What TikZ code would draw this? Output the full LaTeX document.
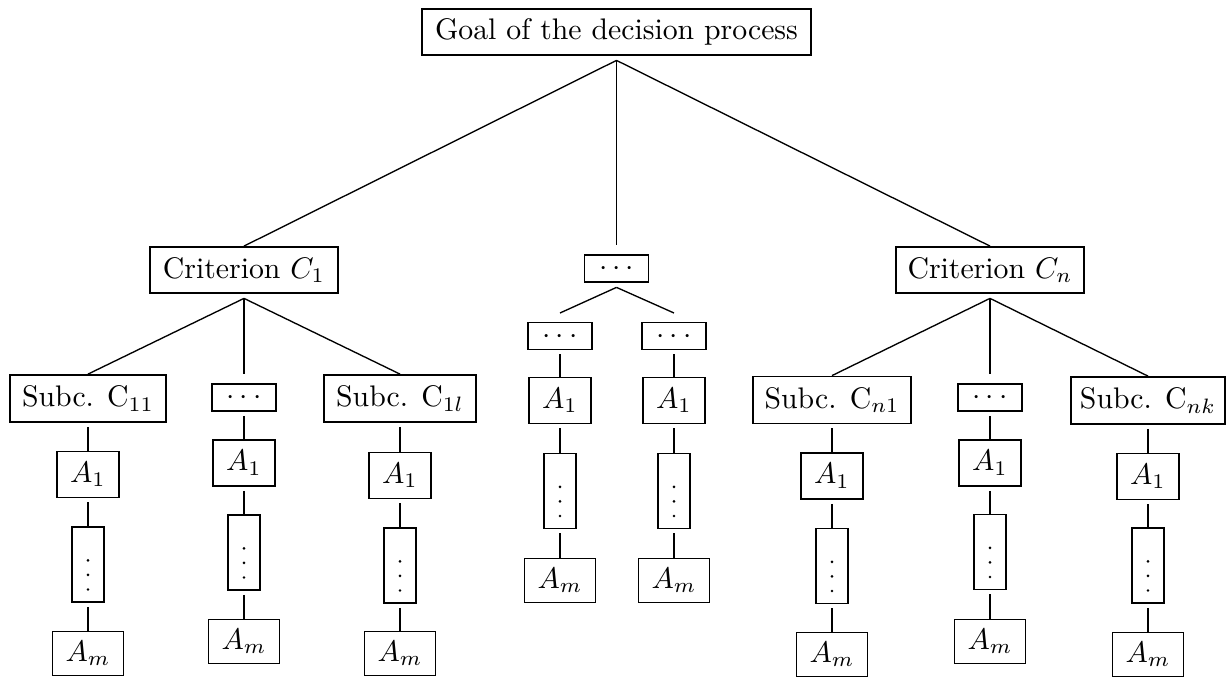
\documentclass[tikz,border=0pt]{standalone}
\usetikzlibrary{calc}
\newcommand\cdts{\raisebox{-2.5pt}[0pt][0pt]{${\cdot}\kern1.7pt{\cdot}\kern1.7pt{\cdot}$}}
\begin{document}
\begin{tikzpicture}[x=0.336pt,y=-0.336pt,
  bx/.style 2 args={draw, line width=0.6pt, inner sep=0pt,
    minimum width=#1*0.336pt, minimum height=#2*0.336pt},
  crit/.style={bx={188}{46}},
  subc/.style={bx={156}{47}},
  hdots/.style={bx={64}{27}},
  aone/.style={bx={62}{46}},
  adots/.style={bx={32}{75}, path picture={
    \foreach \k in {0,1,2}
      \fill ($(path picture bounding box.center)+(0,-4.2+14.6*\k)$) circle (0.5pt);}},
  aem/.style={bx={71}{44}},
  edge/.style={line width=0.45pt}]
\useasboundingbox (0,0) rectangle (1226,677);

\node[bx={389}{46}] (goal) at (616.5,32) {Goal of the decision process};
\node[crit] (c1) at (244,270) {Criterion $C_1$};
\node[hdots] (cm) at (616.5,268.5) {\cdts};
\node[crit] (cn) at (990,270) {Criterion $C_n$};

\node[subc] (s11) at (88,398.5) {Subc. C$_{11}$};
\node[hdots] (s1d) at (244,397.5) {\cdts};
\node[subc,minimum width=152*0.336pt] (s1l) at (400,398.5) {Subc. C$_{1l}$};
\node[hdots] (md1) at (560,336) {\cdts};
\node[hdots] (md2) at (674,336) {\cdts};
\node[subc,minimum width=158*0.336pt] (sn1) at (832,400) {Subc. C$_{n1}$};
\node[hdots] (snd) at (990,397.5) {\cdts};
\node[subc,minimum width=154*0.336pt] (snk) at (1148,400.5) {Subc. C$_{nk}$};

% apex points below parents
\foreach \n in {goal,c1,cm,cn}{\coordinate (\n-b) at ($(\n.south)+(0,4.5)$);}

\draw[edge] (goal-b) -- (c1.north);
\draw[edge] (goal-b) -- ($(cm.center)+(0,-23)$);
\draw[edge] (goal-b) -- (cn.north);

\draw[edge] (c1-b) -- (s11.north);
\draw[edge] (c1-b) -- ($(s1d.center)+(0,-23)$);
\draw[edge] (c1-b) -- (s1l.north);

\draw[edge] (cm-b) -- ($(md1.center)+(0,-23)$);
\draw[edge] (cm-b) -- ($(md2.center)+(0,-23)$);

\draw[edge] (cn-b) -- (sn1.north);
\draw[edge] (cn-b) -- ($(snd.center)+(0,-23)$);
\draw[edge] (cn-b) -- (snk.north);

% columns of alternatives
\foreach \p/\x/\ya/\yv/\ym/\pa in {
  a/88/474.5/564.5/653.5/s11,
  b/244/463/552.5/641.5/s1d,
  c/400/475.5/565.5/653.5/s1l,
  d/560/400.5/491/580.5/md1,
  e/674/400.5/491/580.5/md2,
  f/832/476/566/654.5/sn1,
  g/990/463/552/641.5/snd,
  h/1148/476.5/565.5/654.5/snk}{
  \node[aone] (\p1) at (\x,\ya) {$A_1$};
  \node[adots] (\p v) at (\x,\yv) {};
  \node[aem] (\p m) at (\x,\ym) {$A_m$};
  \draw[edge] ($(\pa.south)+(0,4)$) -- (\p1.north);
  \draw[edge] ($(\p1.south)+(0,4)$) -- (\p v.north);
  \draw[edge] ($(\p v.south)+(0,4)$) -- (\p m.north);
}
\end{tikzpicture}
\end{document}
